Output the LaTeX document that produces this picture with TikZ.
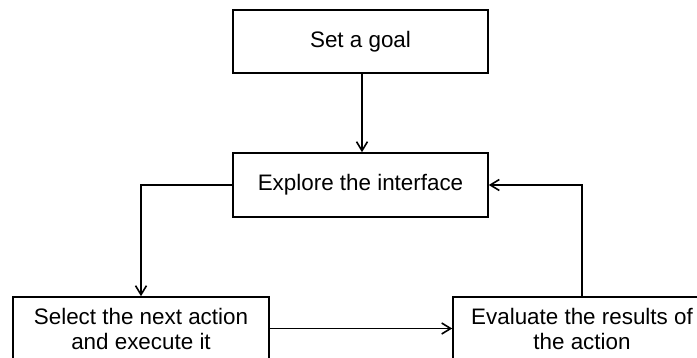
\documentclass[tikz,border=0pt]{standalone}
\usepackage{fontspec}
\setmainfont{Liberation Sans}
\usetikzlibrary{arrows.meta}
\begin{document}
\begin{tikzpicture}[x=1pt,y=-1pt,
  box/.style={draw, line width=1.6pt, rectangle, inner sep=0pt, align=center,
    font=\fontsize{22.4}{25}\selectfont},
  conn/.style={line width=1.6pt, -{Straight Barb[length=9pt,width=11pt,line width=1.6pt]}}]
\useasboundingbox (0,0) rectangle (697,358);
\clip (0,0) rectangle (697,358);
\node[box, minimum width=255pt, minimum height=63pt] (goal) at (360.5,41.5) {Set a goal};
\node[box, minimum width=255pt, minimum height=64pt] (explore) at (360.5,185) {Explore the interface};
\node[box, minimum width=256pt, minimum height=63pt] (select) at (141,328.5) {Select the next action\\and execute it};
\node[box, minimum width=258pt, minimum height=63pt] (eval) at (582,328.5) {Evaluate the results of\\the action};
\draw[conn] ([xshift=1.5pt]goal.south) -- ([xshift=1.5pt]explore.north);
\draw[conn] (explore.west) -| (select.north);
\draw[conn] (select.east) -- (eval.west);
\draw[conn] (eval.north) |- (explore.east);
\end{tikzpicture}
\end{document}
